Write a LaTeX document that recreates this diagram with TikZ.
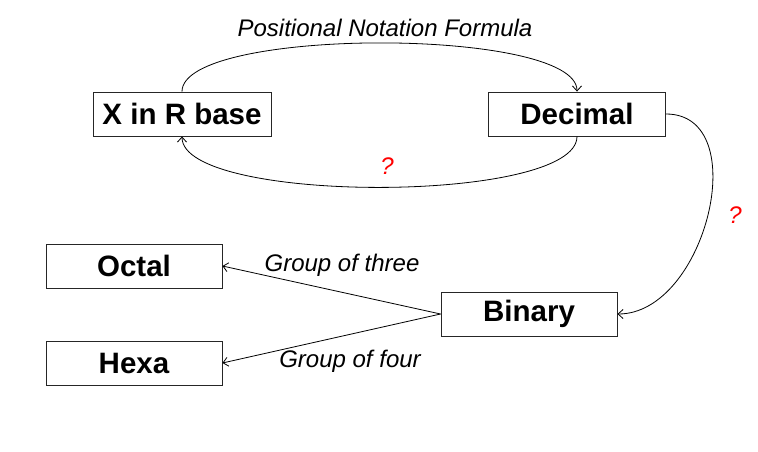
\documentclass[tikz,border=0pt]{standalone}
\usepackage{fontspec}
\usetikzlibrary{arrows.meta}
\setmainfont{Liberation Sans}
\begin{document}
\begin{tikzpicture}[x=1pt,y=-1pt,
    box/.style={draw=black!85,line width=0.9pt,minimum width=176pt,minimum height=44pt,
      inner sep=0pt,font=\fontsize{29.5}{33}\selectfont\bfseries},
    lbl/.style={font=\fontsize{24}{28}\selectfont\itshape},
    ask/.style={lbl,text=red}]
  \useasboundingbox (0,0) rectangle (758,452);
  \draw
    (182,114) node[box,minimum width=178pt] (xr){X in R base}
    (577,114) node[box,minimum width=177pt] (dec){Decimal}
    (134,266) node[box] (oct){Octal}
    (134,363) node[box] (hex){Hexa}
    (529,314) node[box] (bin){Binary}
    (385,28) node[lbl] (pnf){Positional Notation Formula}
    (387,166) node[ask] (q1){?}
    (735,215) node[ask] (q2){?}
    (342,265) node[lbl] (g3){Group of three}
    (350,361) node[lbl] (g4){Group of four};
  \begin{scope}[-{Straight Barb[length=5pt,width=9pt]},line width=0.8pt]
    \draw (xr.north) to[out=90,in=90,looseness=0.42] (dec.north);
    \draw (dec.south) to[out=-90,in=-90,looseness=0.44] (xr.south);
    \draw (dec.east) to[out=0,in=0,looseness=1.1] (bin.east);
    \draw (bin.west) to (oct.east);
    \draw (bin.west) to (hex.east);
  \end{scope}
\end{tikzpicture}
\end{document}
